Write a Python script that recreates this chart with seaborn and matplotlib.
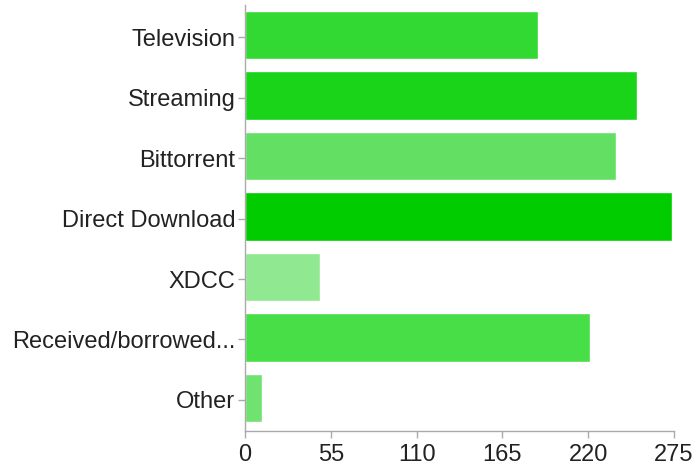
import matplotlib
matplotlib.use("Agg")
import matplotlib.pyplot as plt
import seaborn as sns
import pandas as pd

categories = ["Television", "Streaming", "Bittorrent", "Direct Download",
              "XDCC", "Received/borrowed...", "Other"]
values = [188, 251, 238, 274, 48, 221, 11]
colors = ["#33d933", "#1ad41a", "#63e063", "#00cc00", "#90e890", "#48de48", "#70e270"]
xticks = [0, 55, 110, 165, 220, 275]

sns.set_theme(style="white")
plt.rcParams['font.family'] = ['Liberation Sans', 'DejaVu Sans']

df = pd.DataFrame({"category": categories, "value": values})

fig = plt.figure(figsize=(6.95, 4.65), dpi=100)
ax = fig.add_axes([245/695, 34/465, (674-245)/695, 426/465])
sns.barplot(data=df, y="category", x="value", hue="category", palette=colors,
            legend=False, orient="h", width=0.8, ax=ax, saturation=1)
ax.set_xlim(0, 275)
ax.set_ylim(6.55, -0.5)
ax.set_yticks([i + 0.035 for i in range(len(categories))])
ax.set_yticklabels(categories)
ax.set_xticks(xticks)
ax.set_xticklabels([str(t) for t in xticks])
ax.set_xlabel("")
ax.set_ylabel("")
for s in ["top", "right"]:
    ax.spines[s].set_visible(False)
for s in ["left", "bottom"]:
    ax.spines[s].set_color("#aaaaaa")
    ax.spines[s].set_linewidth(1)
ax.tick_params(axis="both", which="major", direction="out", length=5, width=1,
               color="#aaaaaa", labelsize=17, labelcolor="#222222", left=True, bottom=True)
ax.tick_params(axis="y", pad=2)
ax.tick_params(axis="x", pad=4)

fig.savefig("out.png", dpi=100, facecolor="white")
